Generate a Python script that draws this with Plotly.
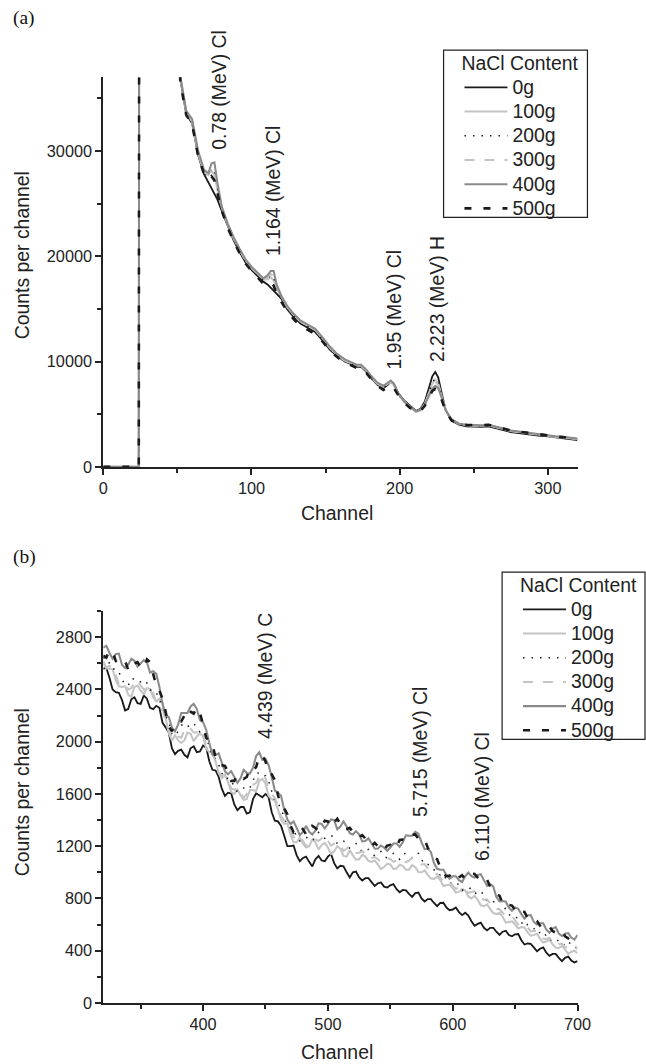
import plotly.graph_objects as go

# ---------------- Panel (a) data ----------------
ch_a = [0, 24, 25, 35, 45,
        52, 56, 60, 64, 68, 71, 73, 75, 77, 80,
        84, 88, 92, 96, 100, 104, 108, 111, 113, 115,
        117, 120, 124, 128, 133, 138, 143, 148, 153, 158,
        163, 168, 171, 174, 177, 181, 185, 189, 192, 194,
        196, 199, 203, 207, 211, 214, 217, 220, 222, 224,
        226, 228, 231, 235, 240, 245, 250, 255, 260, 265,
        270, 275, 280, 285, 290, 295, 300, 305, 310, 315,
        320]

a_0g = [0, 0, 200000, 120000, 60000,
        36800, 33500, 32600, 29600, 27800, 27000, 26500, 26000, 25400, 24300,
        22800, 21500, 20400, 19400, 18700, 18100, 17600, 17300, 17000, 16800,
        16500, 16000, 15000, 14300, 13600, 13200, 12800, 12000, 11100, 10500,
        10000, 9700, 9500, 9500, 9100, 8400, 7800, 7500, 7800, 8100,
        7900, 7000, 6300, 5800, 5300, 5500, 6200, 7600, 8600, 9000,
        8500, 7200, 5400, 4400, 4000, 3850, 3800, 3800, 3850, 3700,
        3500, 3300, 3200, 3100, 3000, 2950, 2900, 2800, 2700, 2650,
        2550]
a_100g = [0, 0, 200000, 120000, 60000,
          37000, 33700, 32800, 29800, 28000, 27800, 28100, 27700, 26300, 24600,
          23000, 21700, 20600, 19600, 18900, 18300, 17800, 17800, 18000, 17700,
          16900, 16200, 15200, 14500, 13800, 13400, 13000, 12200, 11300, 10600,
          10100, 9800, 9600, 9600, 9200, 8500, 7900, 7600, 7900, 8100,
          7800, 6900, 6200, 5700, 5200, 5400, 6000, 7100, 7900, 8300,
          7900, 6900, 5400, 4500, 4100, 3950, 3900, 3900, 3950, 3800,
          3600, 3400, 3300, 3200, 3100, 3000, 2950, 2850, 2800, 2700,
          2650]
a_200g = [0, 0, 200000, 120000, 60000,
          36900, 33600, 32700, 29700, 27900, 27600, 28300, 28200, 26600, 24500,
          22900, 21600, 20500, 19500, 18800, 18200, 17700, 17900, 18200, 18000,
          17000, 16100, 15100, 14400, 13700, 13300, 12900, 12100, 11200, 10500,
          10000, 9700, 9500, 9500, 9100, 8400, 7800, 7500, 7900, 8100,
          7800, 6900, 6200, 5700, 5200, 5400, 6000, 7200, 8000, 8400,
          8000, 7000, 5400, 4400, 4000, 3900, 3850, 3850, 3900, 3750,
          3550, 3350, 3250, 3150, 3050, 2980, 2920, 2830, 2750, 2680,
          2600]
a_300g = [0, 0, 200000, 120000, 60000,
          37000, 33700, 32800, 29800, 28000, 27700, 28400, 28300, 26700, 24600,
          23000, 21700, 20600, 19600, 18900, 18300, 17800, 18000, 18300, 18100,
          17100, 16200, 15200, 14500, 13800, 13400, 13000, 12200, 11300, 10600,
          10100, 9800, 9600, 9600, 9200, 8500, 7900, 7600, 7900, 8100,
          7800, 6900, 6200, 5700, 5200, 5400, 5900, 7000, 7700, 8100,
          7800, 6800, 5400, 4500, 4100, 3950, 3900, 3900, 3950, 3800,
          3600, 3400, 3300, 3200, 3100, 3000, 2950, 2850, 2800, 2700,
          2650]
a_400g = [0, 0, 200000, 120000, 60000,
          37100, 33800, 33000, 30000, 28200, 27900, 28800, 28900, 27000, 24700,
          23100, 21800, 20700, 19700, 19000, 18400, 17900, 18200, 18600, 18600,
          17300, 16300, 15300, 14600, 13900, 13500, 13100, 12300, 11400, 10700,
          10200, 9900, 9700, 9700, 9300, 8600, 8000, 7700, 8000, 8200,
          7900, 7000, 6200, 5700, 5300, 5400, 5900, 6800, 7400, 7700,
          7500, 6700, 5400, 4500, 4100, 4000, 3950, 3950, 4000, 3850,
          3650, 3450, 3350, 3250, 3150, 3050, 3000, 2900, 2850, 2750,
          2700]
a_500g = [0, 0, 200000, 120000, 60000,
          36500, 33400, 32500, 29500, 27800, 27300, 27600, 27200, 26000, 24300,
          22700, 21400, 20300, 19300, 18600, 18000, 17400, 17300, 17500, 17200,
          16400, 15700, 14800, 14100, 13400, 13000, 12600, 11900, 11000, 10400,
          9900, 9600, 9400, 9400, 9000, 8300, 7700, 7300, 7500, 7700,
          7500, 6800, 6100, 5600, 5200, 5300, 5800, 6700, 7200, 7400,
          7200, 6500, 5300, 4400, 4100, 4000, 3950, 3950, 4000, 3850,
          3650, 3450, 3350, 3250, 3150, 3050, 2980, 2900, 2830, 2750,
          2680]

# ---------------- Panel (b) data ----------------
ch_b = [320, 325, 330, 335, 340, 345, 350, 355, 360, 365,
        370, 375, 380, 385, 390, 395, 400, 405, 410, 415,
        420, 425, 430, 435, 440, 445, 450, 455, 460, 465,
        470, 475, 480, 485, 490, 495, 500, 505, 510, 515,
        520, 525, 530, 535, 540, 545, 550, 555, 560, 565,
        570, 575, 580, 585, 590, 595, 600, 605, 610, 615,
        620, 625, 630, 635, 640, 645, 650, 655, 660, 665,
        670, 675, 680, 685, 690, 695, 700]
ch_b_mid = [322.5, 327.5, 332.5, 337.5, 342.5, 347.5, 352.5, 357.5, 362.5, 367.5,
            372.5, 377.5, 382.5, 387.5, 392.5, 397.5, 402.5, 407.5, 412.5, 417.5,
            422.5, 427.5, 432.5, 437.5, 442.5, 447.5, 452.5, 457.5, 462.5, 467.5,
            472.5, 477.5, 482.5, 487.5, 492.5, 497.5, 502.5, 507.5, 512.5, 517.5,
            522.5, 527.5, 532.5, 537.5, 542.5, 547.5, 552.5, 557.5, 562.5, 567.5,
            572.5, 577.5, 582.5, 587.5, 592.5, 597.5, 602.5, 607.5, 612.5, 617.5,
            622.5, 627.5, 632.5, 637.5, 642.5, 647.5, 652.5, 657.5, 662.5, 667.5,
            672.5, 677.5, 682.5, 687.5, 692.5, 697.5]

b_0g = [2560, 2490, 2380, 2320, 2250, 2340, 2290, 2330, 2250, 2260,
        2110, 1950, 1930, 1900, 1950, 1920, 1970, 1850, 1780, 1640,
        1610, 1520, 1500, 1450, 1560, 1590, 1600, 1460, 1390, 1280,
        1200, 1130, 1110, 1080, 1100, 1090, 1120, 1070, 1050, 1000,
        1000, 960, 955, 925, 915, 890, 900, 870, 865, 835,
        840, 800, 795, 765, 765, 730, 715, 695, 690, 625,
        605, 575, 575, 545, 545, 520, 525, 480, 455, 425,
        415, 385, 375, 345, 345, 325, 320]
b_0g_mid = [2565, 2400, 2375, 2240, 2325, 2295, 2355, 2260, 2275, 2145,
            2070, 1905, 1940, 1880, 1965, 1925, 1955, 1785, 1730, 1585,
            1605, 1475, 1500, 1460, 1605, 1575, 1575, 1395, 1355, 1200,
            1205, 1085, 1120, 1045, 1125, 1085, 1140, 1030, 1045, 960,
            1005, 937, 955, 895, 922, 883, 910, 847, 862, 812,
            845, 777, 795, 740, 767, 710, 730, 672, 669, 590,
            615, 555, 575, 520, 552, 510, 527, 447, 452, 395,
            425, 360, 375, 320, 355, 310]
b_100g = [2620, 2560, 2470, 2420, 2360, 2420, 2390, 2410, 2340, 2330,
          2180, 2010, 2010, 2010, 2060, 2040, 2040, 1920, 1850, 1720,
          1690, 1600, 1590, 1560, 1630, 1700, 1680, 1560, 1480, 1370,
          1290, 1230, 1220, 1200, 1230, 1210, 1190, 1160, 1180, 1120,
          1130, 1100, 1120, 1080, 1060, 1040, 1060, 1030, 1050, 1020,
          1040, 1000, 980, 950, 940, 900, 880, 850, 860, 800,
          790, 740, 720, 680, 660, 620, 600, 580, 540, 520,
          490, 470, 450, 420, 410, 390, 380]
b_100g_mid = [2560, 2555, 2425, 2425, 2345, 2430, 2365, 2405, 2310, 2300,
              2065, 2050, 1990, 2070, 2005, 2065, 1945, 1915, 1760, 1750,
              1615, 1635, 1555, 1630, 1620, 1715, 1585, 1550, 1400, 1375,
              1230, 1265, 1190, 1250, 1175, 1225, 1140, 1200, 1125, 1170,
              1097, 1135, 1088, 1090, 1025, 1065, 1025, 1058, 1020, 1055,
              1002, 1015, 953, 965, 895, 905, 845, 873, 815, 820,
              747, 755, 688, 690, 615, 625, 570, 578, 515, 530,
              462, 485, 423, 435, 375, 400]
b_200g = [2640, 2600, 2560, 2480, 2430, 2480, 2460, 2450, 2400, 2330,
          2200, 2060, 2080, 2140, 2130, 2100, 2080, 1960, 1870, 1760,
          1720, 1650, 1630, 1630, 1700, 1760, 1740, 1620, 1530, 1420,
          1340, 1270, 1260, 1250, 1270, 1280, 1270, 1260, 1240, 1220,
          1200, 1190, 1170, 1150, 1140, 1120, 1130, 1120, 1140, 1130,
          1140, 1100, 1060, 1020, 980, 940, 920, 900, 880, 870,
          850, 820, 790, 740, 710, 680, 650, 620, 600, 570,
          540, 510, 490, 470, 450, 440, 430]
b_200g_mid = [2645, 2555, 2535, 2435, 2485, 2455, 2475, 2395, 2375, 2240,
              2155, 2045, 2125, 2115, 2145, 2075, 2040, 1885, 1825, 1715,
              1710, 1615, 1645, 1645, 1760, 1735, 1700, 1545, 1485, 1355,
              1330, 1240, 1270, 1240, 1305, 1260, 1285, 1220, 1240, 1185,
              1220, 1155, 1175, 1125, 1160, 1110, 1145, 1100, 1145, 1110,
              1145, 1055, 1055, 980, 990, 915, 930, 860, 885, 835,
              860, 780, 780, 705, 725, 650, 655, 580, 595, 530,
              550, 475, 495, 440, 475, 420]
b_300g = [2600, 2580, 2510, 2450, 2400, 2450, 2430, 2420, 2370, 2300,
          2160, 2040, 2040, 2090, 2100, 2070, 2060, 1940, 1850, 1740,
          1700, 1630, 1610, 1600, 1670, 1730, 1720, 1600, 1510, 1400,
          1320, 1260, 1240, 1230, 1250, 1260, 1240, 1220, 1210, 1180,
          1170, 1150, 1140, 1110, 1100, 1080, 1100, 1090, 1100, 1090,
          1100, 1060, 1030, 990, 960, 920, 900, 880, 870, 850,
          830, 790, 760, 720, 690, 660, 630, 600, 580, 550,
          520, 490, 470, 450, 430, 420, 410]
b_300g_mid = [2570, 2575, 2445, 2445, 2410, 2475, 2400, 2410, 2305, 2255,
              2080, 2070, 2030, 2115, 2070, 2100, 1975, 1910, 1765, 1745,
              1645, 1650, 1570, 1655, 1685, 1760, 1635, 1570, 1425, 1385,
              1270, 1280, 1200, 1260, 1240, 1285, 1205, 1230, 1165, 1200,
              1148, 1163, 1105, 1117, 1080, 1110, 1080, 1105, 1077, 1110,
              1068, 1063, 990, 987, 930, 930, 875, 885, 842, 855,
              798, 793, 720, 717, 665, 665, 600, 600, 547, 550,
              493, 498, 440, 452, 415, 435]
b_400g = [2720, 2680, 2670, 2590, 2590, 2620, 2600, 2610, 2540, 2420,
          2200, 2110, 2130, 2220, 2270, 2250, 2150, 1990, 1900, 1840,
          1750, 1730, 1720, 1760, 1800, 1920, 1870, 1730, 1610, 1480,
          1370, 1340, 1310, 1310, 1320, 1370, 1370, 1400, 1350, 1350,
          1290, 1290, 1240, 1220, 1180, 1190, 1190, 1220, 1230, 1280,
          1310, 1230, 1180, 1070, 1020, 980, 970, 940, 970, 970,
          980, 940, 910, 810, 780, 730, 730, 680, 670, 620,
          610, 560, 570, 530, 530, 500, 520]
b_400g_mid = [2735, 2635, 2675, 2565, 2635, 2575, 2625, 2530, 2520, 2290,
              2190, 2080, 2220, 2220, 2290, 2165, 2090, 1900, 1910, 1775,
              1775, 1685, 1785, 1755, 1890, 1860, 1820, 1625, 1585, 1405,
              1390, 1285, 1355, 1290, 1375, 1335, 1405, 1330, 1390, 1300,
              1315, 1237, 1260, 1182, 1205, 1165, 1220, 1195, 1283, 1280,
              1295, 1177, 1155, 1027, 1020, 950, 970, 925, 998, 960,
              985, 897, 890, 777, 775, 705, 720, 645, 673, 600,
              610, 537, 580, 512, 535, 485]
b_500g = [2660, 2700, 2620, 2610, 2550, 2600, 2570, 2630, 2520, 2390,
          2230, 2080, 2150, 2200, 2230, 2260, 2130, 2010, 1880, 1820,
          1770, 1700, 1740, 1730, 1780, 1890, 1850, 1750, 1590, 1490,
          1360, 1320, 1330, 1290, 1340, 1350, 1390, 1380, 1370, 1330,
          1310, 1270, 1260, 1200, 1200, 1170, 1210, 1200, 1250, 1260,
          1290, 1270, 1190, 1110, 1040, 970, 950, 960, 950, 990,
          960, 960, 890, 830, 760, 750, 710, 700, 650, 640,
          590, 580, 550, 550, 510, 520, 490]
b_500g_mid = [2645, 2690, 2595, 2620, 2545, 2610, 2560, 2610, 2430, 2330,
              2120, 2145, 2155, 2255, 2215, 2220, 2030, 1980, 1825, 1815,
              1700, 1750, 1715, 1795, 1805, 1895, 1760, 1705, 1515, 1445,
              1305, 1355, 1290, 1355, 1315, 1395, 1345, 1410, 1325, 1340,
              1268, 1285, 1218, 1225, 1165, 1205, 1180, 1247, 1240, 1287,
              1258, 1250, 1138, 1100, 985, 975, 930, 977, 955, 987,
              938, 945, 848, 820, 735, 745, 680, 697, 630, 627,
              563, 585, 538, 555, 495, 520]

series_names = ["0g", "100g", "200g", "300g", "400g", "500g"]
a_series = [a_0g, a_100g, a_200g, a_300g, a_400g, a_500g]
b_series = [(b_0g, b_0g_mid), (b_100g, b_100g_mid), (b_200g, b_200g_mid),
            (b_300g, b_300g_mid), (b_400g, b_400g_mid), (b_500g, b_500g_mid)]

# peak labels
a_peak_text = ["0.78 (MeV) Cl", "1.164 (MeV) Cl", "1.95 (MeV) Cl", "2.223 (MeV) H"]
a_peak_x = [78, 115, 196.5, 224.8]
a_peak_y = [29900, 19800, 9100, 9800]
b_peak_text = ["4.439 (MeV) C", "5.715 (MeV) Cl", "6.110 (MeV) Cl"]
b_peak_x = [450, 574, 623]
b_peak_y = [2010, 1410, 1070]


def merge(xs, ys, xm, ym):
    pts = sorted(list(zip(xs, ys)) + list(zip(xm, ym)))
    return [p[0] for p in pts], [p[1] for p in pts]


# Design canvas (reference pixels) and actual figure size
W, H = 646, 1064
FW, FH = 660, 1075
S = FW / W

FONT = "Liberation Sans, Arial, sans-serif"
TXT = "#222222"
F_BIG = round(19 * S, 1)
F_TICK = round(16 * S, 1)

styles = [
    dict(color="#1a1a1a", width=1.8 * S, dash="solid"),
    dict(color="#c4c4c4", width=2 * S, dash="solid"),
    dict(color="#1a1a1a", width=1.5 * S, dash="1.5px,7px"),
    dict(color="#c4c4c4", width=2 * S, dash="10px,10px"),
    dict(color="#8a8a8a", width=2 * S, dash="solid"),
    dict(color="#1a1a1a", width=2.5 * S, dash="7px,12px"),
]


def px(x):
    return x / W


def py(y):
    return 1 - y / H


def big(s):
    return '<span style="font-size:%spx">%s</span>' % (F_BIG, s)


fig = go.Figure()
for name, ys, st in zip(series_names, a_series, styles):
    fig.add_trace(go.Scatter(x=ch_a, y=ys, mode="lines", name=big(name), line=st,
                             xaxis="x", yaxis="y", legend="legend"))
for name, (ys, ym), st in zip(series_names, b_series, styles):
    xx, yy = merge(ch_b, ys, ch_b_mid, ym)
    fig.add_trace(go.Scatter(x=xx, y=yy, mode="lines", name=big(name), line=st,
                             xaxis="x2", yaxis="y2", legend="legend2"))

axis_common = dict(showline=True, linecolor="#222", linewidth=1.5 * S, ticks="outside",
                   ticklen=6 * S, tickwidth=1.5 * S, tickcolor="#222", showgrid=False,
                   zeroline=False, tickformat="d",
                   tickfont=dict(size=F_TICK, color=TXT, family=FONT))
minor_common = dict(ticks="outside", ticklen=4 * S, tickwidth=1.5 * S, tickcolor="#222", showgrid=False)

legend_common = dict(borderwidth=0, bgcolor="rgba(0,0,0,0)",
                     font=dict(size=round(16 * S, 1), color=TXT, family=FONT),
                     title=dict(text="NaCl Content", font=dict(size=F_BIG, color=TXT, family=FONT)),
                     xanchor="left", yanchor="top", itemwidth=round(42 * S), tracegroupgap=0)

fig.update_layout(
    width=FW, height=FH, margin=dict(l=0, r=0, t=0, b=0),
    paper_bgcolor="white", plot_bgcolor="white",
    font=dict(family=FONT, color=TXT),
    xaxis=dict(domain=[px(99), px(577)], range=[0, 320], tickvals=[0, 100, 200, 300],
               minor=dict(tickvals=[50, 150, 250], **minor_common),
               anchor="y", **axis_common),
    yaxis=dict(domain=[py(466), py(77)], range=[0, 37000], tickvals=[0, 10000, 20000, 30000],
               minor=dict(tickvals=[5000, 15000, 25000, 35000], **minor_common),
               anchor="x", **axis_common),
    xaxis2=dict(domain=[px(99), px(577)], range=[320, 700], tickvals=[400, 500, 600, 700],
                minor=dict(tickvals=[350, 450, 550, 650], **minor_common),
                anchor="y2", **axis_common),
    yaxis2=dict(domain=[py(1001), py(610)], range=[0, 3000],
                tickvals=[0, 400, 800, 1200, 1600, 2000, 2400, 2800],
                minor=dict(tickvals=[200, 600, 1000, 1400, 1800, 2200, 2600, 3000], **minor_common),
                anchor="x2", **axis_common),
    legend=dict(x=px(458), y=py(45), **legend_common),
    legend2=dict(x=px(517), y=py(566), **legend_common),
    showlegend=True,
)

# legend frames
for x0, x1, y0, y1 in [(442, 587, 50, 217), (501, 645, 571, 738)]:
    fig.add_shape(type="rect", xref="paper", yref="paper",
                  x0=px(x0), x1=px(x1), y0=py(y1), y1=py(y0),
                  line=dict(color="#222", width=1.2 * S), fillcolor="rgba(0,0,0,0)", layer="above")

ann = []
for t, x, y in zip(a_peak_text, a_peak_x, a_peak_y):
    ann.append(dict(text=t, x=x, y=y, xref="x", yref="y", textangle=-90,
                    xanchor="center", yanchor="bottom", showarrow=False,
                    font=dict(size=F_BIG, color=TXT, family=FONT)))
for t, x, y in zip(b_peak_text, b_peak_x, b_peak_y):
    ann.append(dict(text=t, x=x, y=y, xref="x2", yref="y2", textangle=-90,
                    xanchor="center", yanchor="bottom", showarrow=False,
                    font=dict(size=F_BIG, color=TXT, family=FONT)))
for yc in [255, 791]:
    ann.append(dict(text="Counts per channel", x=px(18), y=py(yc), xref="paper", yref="paper",
                    textangle=-90, xanchor="center", yanchor="middle", showarrow=False,
                    font=dict(size=F_BIG, color=TXT, family=FONT)))
for yc in [512, 1050]:
    ann.append(dict(text="Channel", x=px(335), y=py(yc), xref="paper", yref="paper",
                    xanchor="center", yanchor="middle", showarrow=False,
                    font=dict(size=F_BIG, color=TXT, family=FONT)))
for t, yc in [("(a)", 18), ("(b)", 556)]:
    ann.append(dict(text=t, x=px(6), y=py(yc), xref="paper", yref="paper",
                    xanchor="left", yanchor="middle", showarrow=False,
                    font=dict(size=F_BIG, color="#111", family="Liberation Serif, Times New Roman, serif")))
fig.update_layout(annotations=ann)

fig.write_html("out.html", config={"responsive": False},
               post_script="document.body.style.margin='0';document.documentElement.style.overflow='hidden';")
